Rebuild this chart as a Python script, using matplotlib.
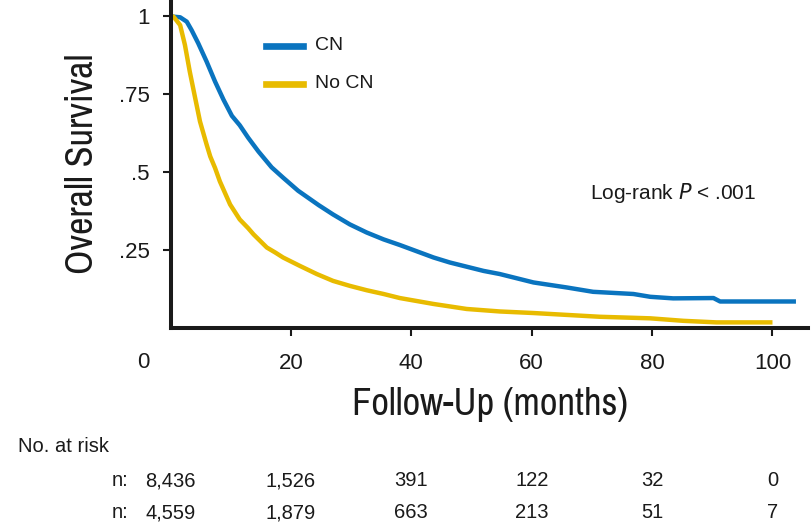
import matplotlib
matplotlib.use("Agg")
import matplotlib.pyplot as plt
import matplotlib.transforms as mtransforms

# Kaplan-Meier curves (months, survival)
cn_months = [0, 0.5, 1.6, 2.7, 3.5, 4.6, 6.0, 7.4, 8.8, 10.2, 11.5, 12.9, 14.6,
             16.8, 18.7, 21.2, 24.6, 27.0, 29.8, 32.6, 35.4, 38.1, 43.7, 46.4,
             52.0, 54.7, 60.3, 65.8, 70.2, 76.9, 79.7, 83.5, 90.2, 91.3, 103.9]
cn_surv = [1.0, 0.998, 0.996, 0.982, 0.955, 0.913, 0.854, 0.790, 0.732, 0.680,
           0.650, 0.610, 0.566, 0.515, 0.482, 0.440, 0.394, 0.364, 0.332, 0.306,
           0.284, 0.266, 0.226, 0.210, 0.183, 0.173, 0.146, 0.130, 0.116, 0.109,
           0.100, 0.095, 0.096, 0.085, 0.085]

nocn_months = [0, 0.5, 1.6, 2.4, 3.2, 4.1, 4.9, 6.0, 6.6, 7.4, 8.2, 9.9, 11.5,
               12.9, 13.8, 16.0, 17.4, 18.7, 21.5, 24.3, 27.0, 29.8, 32.6, 35.4,
               38.1, 43.7, 49.2, 54.7, 60.3, 65.8, 71.3, 79.7, 85.2, 90.7, 100.0]
nocn_surv = [1.0, 0.998, 0.971, 0.907, 0.822, 0.737, 0.662, 0.588, 0.550, 0.513,
             0.470, 0.396, 0.348, 0.320, 0.300, 0.258, 0.242, 0.226, 0.199, 0.173,
             0.151, 0.135, 0.121, 0.109, 0.096, 0.077, 0.061, 0.053, 0.048, 0.042,
             0.036, 0.031, 0.023, 0.018, 0.018]

risk_times = [0, 20, 40, 60, 80, 100]
risk_cn = ["8,436", "1,526", "391", "122", "32", "0"]
risk_nocn = ["4,559", "1,879", "663", "213", "51", "7"]

x_ticks = [20, 40, 60, 80, 100]
y_ticks = [0.25, 0.5, 0.75, 1.0]
y_labels = [".25", ".5", ".75", "1"]

blue = "#0a74bf"
yellow = "#e8bb00"
txt = "#1a1a1a"

plt.rcParams["font.family"] = ["Liberation Sans", "DejaVu Sans"]
narrow = ["Archivo Narrow", "Liberation Sans", "DejaVu Sans"]

W, H = 811, 527
fig = plt.figure(figsize=(W / 100, H / 100), dpi=100)
ax = fig.add_axes([170.5 / W, 1 - 328 / H, (808 - 170.5) / W, (328 - 2) / H])

ax.plot(cn_months, cn_surv, color=blue, lw=3.2, solid_capstyle="butt")
ax.plot(nocn_months, nocn_surv, color=yellow, lw=3.2, solid_capstyle="butt")

ax.set_xlim(0, 105.9)
ax.set_ylim(0, 1.045)

for s in ["top", "right"]:
    ax.spines[s].set_visible(False)
for s in ["left", "bottom"]:
    ax.spines[s].set_linewidth(2.9)
    ax.spines[s].set_color(txt)

ax.set_xticks(x_ticks)
ax.set_xticklabels([str(t) for t in x_ticks])
ax.set_yticks(y_ticks)
ax.set_yticklabels(y_labels)
ax.tick_params(axis="both", direction="out", length=6, width=1.5, color=txt,
               labelsize=16, labelcolor=txt)
ax.tick_params(axis="x", pad=12)
ax.tick_params(axis="y", pad=9)

# "0" sits left of the axis origin, on the x tick label row
fig.text(143 / W, 1 - 362 / H, "0", ha="center", va="center", fontsize=16, color=txt)

ax.set_xlabel("Follow-Up (months)", family=narrow, fontsize=27.8, color=txt, va="center")
ax.xaxis.set_label_coords((490 - 170.5) / (808 - 170.5), -(405 - 328) / 326)
ax.set_ylabel("Overall Survival", family=narrow, fontsize=27.5, color=txt, va="center")
ax.yaxis.set_label_coords(-(170.5 - 83) / (808 - 170.5), (328 - 164) / 326)

# legend drawn by hand to match its layout
fig.lines.append(plt.Line2D([266 / W, 303 / W], [1 - 46 / H, 1 - 46 / H],
                            transform=fig.transFigure, color=blue, lw=4.8))
fig.lines.append(plt.Line2D([266 / W, 303 / W], [1 - 84 / H, 1 - 84 / H],
                            transform=fig.transFigure, color=yellow, lw=4.8))
fig.text(315 / W, 1 - 46 / H, "CN", ha="left", va="center", fontsize=14, color=txt)
fig.text(315 / W, 1 - 84 / H, "No CN", ha="left", va="center", fontsize=14, color=txt)

fig.text(590 / W, 1 - 193 / H, r"Log-rank $\it{P}$ < .001", ha="left", va="center",
         fontsize=15, color=txt)

# numbers at risk
fig.text(18 / W, 1 - 446 / H, "No. at risk", ha="left", va="center", fontsize=14.5, color=txt)
trans = mtransforms.blended_transform_factory(ax.transData, fig.transFigure)
for row_y, vals in [(481, risk_cn), (513, risk_nocn)]:
    fig.text(112 / W, 1 - row_y / H, "n:", ha="left", va="center", fontsize=14.5, color=txt)
    for t, v in zip(risk_times, vals):
        ax.text(t, 1 - row_y / H, v, transform=trans, ha="center", va="center",
                fontsize=14.5, color=txt, clip_on=False)

fig.savefig("out.png", dpi=100)
